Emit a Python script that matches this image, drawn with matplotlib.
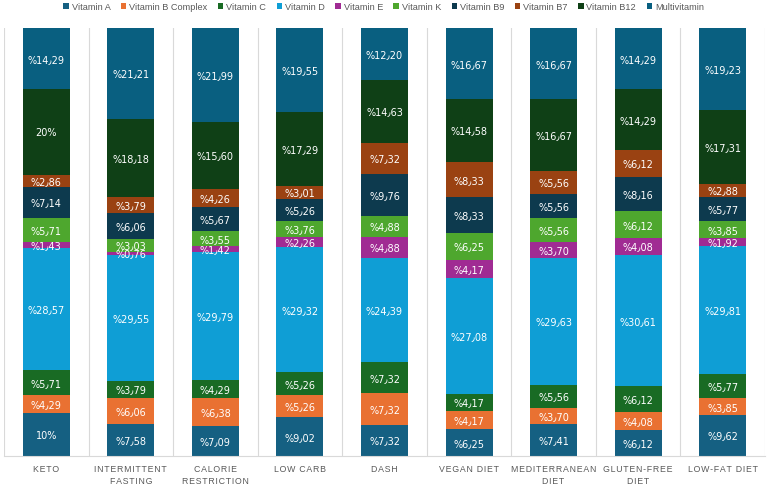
import matplotlib
matplotlib.use("Agg")
import matplotlib.pyplot as plt
import numpy as np

categories = ["KETO", "INTERMITTENT\nFASTING", "CALORIE\nRESTRICTION", "LOW CARB", "DASH",
              "VEGAN DIET", "MEDITERRANEAN\nDIET", "GLUTEN-FREE\nDIET", "LOW-FAT DIET"]
series_names = ["Vitamin A", "Vitamin B Complex", "Vitamin C", "Vitamin D", "Vitamin E",
                "Vitamin K", "Vitamin B9", "Vitamin B7", "Vitamin B12", "Multivitamin"]

vitamin_a = [10, 7.58, 7.09, 9.02, 7.32, 6.25, 7.41, 6.12, 9.62]
vitamin_b_complex = [4.29, 6.06, 6.38, 5.26, 7.32, 4.17, 3.70, 4.08, 3.85]
vitamin_c = [5.71, 3.79, 4.29, 5.26, 7.32, 4.17, 5.56, 6.12, 5.77]
vitamin_d = [28.57, 29.55, 29.79, 29.32, 24.39, 27.08, 29.63, 30.61, 29.81]
vitamin_e = [1.43, 0.76, 1.42, 2.26, 4.88, 4.17, 3.70, 4.08, 1.92]
vitamin_k = [5.71, 3.03, 3.55, 3.76, 4.88, 6.25, 5.56, 6.12, 3.85]
vitamin_b9 = [7.14, 6.06, 5.67, 5.26, 9.76, 8.33, 5.56, 8.16, 5.77]
vitamin_b7 = [2.86, 3.79, 4.26, 3.01, 7.32, 8.33, 5.56, 6.12, 2.88]
vitamin_b12 = [20, 18.18, 15.60, 17.29, 14.63, 14.58, 16.67, 14.29, 17.31]
multivitamin = [14.29, 21.21, 21.99, 19.55, 12.20, 16.67, 16.67, 14.29, 19.23]

series = [vitamin_a, vitamin_b_complex, vitamin_c, vitamin_d, vitamin_e,
          vitamin_k, vitamin_b9, vitamin_b7, vitamin_b12, multivitamin]
colors = ["#156082", "#E97132", "#196B24", "#0F9ED5", "#A02B93",
          "#4EA72E", "#0D3A4E", "#9A4212", "#0F4016", "#095F80"]

plt.rcParams['font.family'] = ['Liberation Sans', 'DejaVu Sans']

fig = plt.figure(figsize=(7.67, 4.85), dpi=100)
ax = fig.add_axes([4/767, 1 - 457/485, (765 - 4)/767, (457 - 29)/485])

x = np.arange(len(categories))
bottom = np.zeros(len(categories))
handles = []
for name, vals, col in zip(series_names, series, colors):
    vals = np.array(vals, dtype=float)
    b = ax.bar(x, vals, width=0.555, bottom=bottom, color=col, label=name, zorder=2)
    handles.append(b)
    for xi, v, bt in zip(x, vals, bottom):
        if float(v).is_integer():
            txt = f"{int(v)}%"
        else:
            txt = "%" + f"{v:.2f}".replace(".", "\u066B")
        ax.text(xi, bt + v / 2, txt, ha="center", va="center", color="white",
                fontsize=7, zorder=3, family=['DejaVu Sans'])
    bottom += vals

ax.set_xlim(-0.5, len(categories) - 0.5)
ax.set_ylim(0, 100)
for b in np.arange(-0.5, len(categories), 1.0):
    ax.axvline(b, color="#d9d9d9", lw=0.8, zorder=1)
for s in ["top", "left", "right"]:
    ax.spines[s].set_visible(False)
ax.spines["bottom"].set_color("#d9d9d9")
ax.set_yticks([])
ax.set_xticks(x)

def spaced(s):
    return "\n".join("\u200a".join(line) for line in s.split("\n"))

ax.set_xticklabels([spaced(c) for c in categories], fontsize=6.3, color="#595959",
                   linespacing=1.4, family=['Liberation Sans', 'DejaVu Sans'])
ax.tick_params(axis="x", length=0, pad=6)

fig.legend(handles=handles, labels=series_names, loc="upper center",
           bbox_to_anchor=(0.5, 1.01), ncol=10, frameon=False, fontsize=6.6,
           handlelength=0.6, handleheight=0.6, handletextpad=0.3, columnspacing=1.15,
           labelcolor="#595959")

fig.savefig("out.png", dpi=100)
